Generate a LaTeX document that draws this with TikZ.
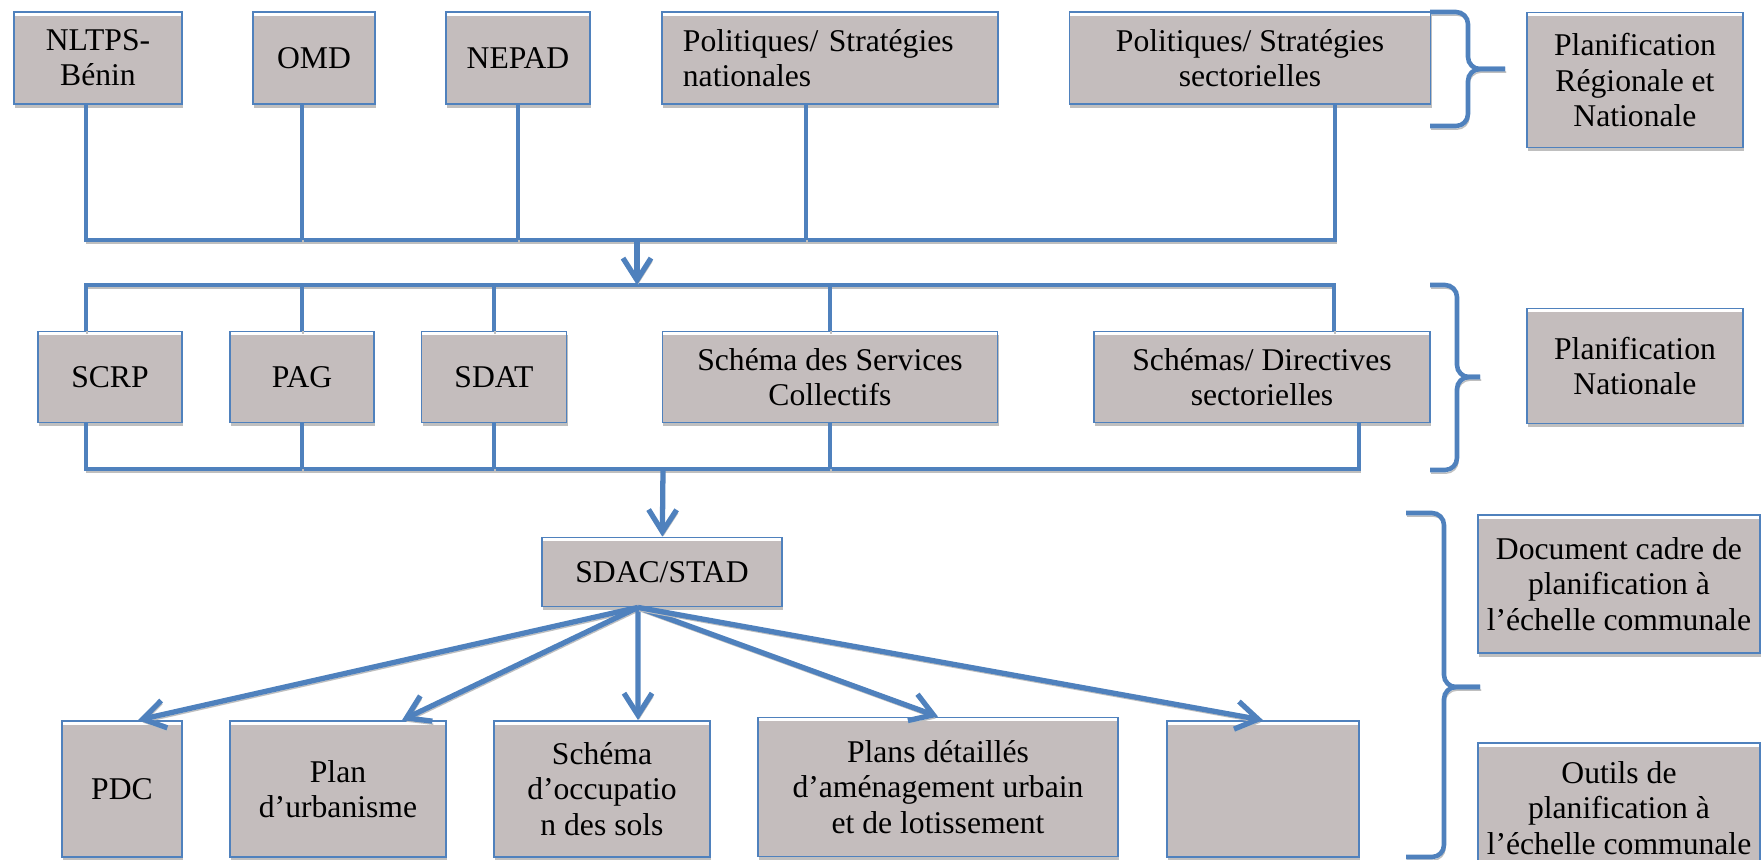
\documentclass[tikz,border=0pt]{standalone}
\usepackage{fontspec}
\setmainfont{Liberation Serif}
\usetikzlibrary{arrows.meta, shadows}
\definecolor{bleu}{RGB}{79,129,189}
\definecolor{gris}{RGB}{196,189,189}

\begin{document}
\begin{tikzpicture}[x=0.01cm, y=-0.01cm, font=\fontsize{9}{10}\selectfont,
            boite/.style={draw=bleu, line width=0.5pt, fill=gris, align=center, inner sep=0pt,
                drop shadow={shadow xshift=0.3pt, shadow yshift=-1.1pt, fill=black!25, opacity=1},
                path picture={\fill[white] (path picture bounding box.north west) rectangle ([yshift=-1.1pt]path picture bounding box.north east);}},
            lien/.style={draw=bleu, line width=1.3pt, preaction={draw=black!25, transform canvas={xshift=0.3pt, yshift=-0.9pt}}},
            fleche/.style={lien, line width=1.5pt, -{Straight Barb[length=2.2mm, width=2.8mm]}},
            accolade/.style={lien, rounded corners=0.12cm}]
            \useasboundingbox (0,0) rectangle (1762,859);
            \clip (0,0) rectangle (1762,859);
            \node[boite, minimum width=1.68cm, minimum height=0.92cm] (nltps) at (98,58) {NLTPS-\\Bénin};
            \node[boite, minimum width=1.22cm, minimum height=0.92cm] (omd) at (314,58) {OMD};
            \node[boite, minimum width=1.44cm, minimum height=0.92cm] (nepad) at (518,58) {NEPAD};
            \node[boite, minimum width=3.36cm, minimum height=0.92cm, text width=2.94cm, align=left] (polnat) at (830,58) {Politiques/ Stratégies\\nationales};
            \node[boite, minimum width=3.61cm, minimum height=0.92cm] (polsect) at (1250,58) {Politiques/ Stratégies\\sectorielles};
            \node[boite, minimum width=2.16cm, minimum height=1.35cm] (planreg) at (1635,80) {Planification\\Régionale et\\Nationale};
            \node[boite, minimum width=1.44cm, minimum height=0.91cm] (scrp) at (110,377) {SCRP};
            \node[boite, minimum width=1.44cm, minimum height=0.91cm] (pag) at (302,377) {PAG};
            \node[boite, minimum width=1.45cm, minimum height=0.91cm] (sdat) at (494,377) {SDAT};
            \node[boite, minimum width=3.35cm, minimum height=0.91cm] (schsc) at (830,377) {Schéma des Services\\Collectifs};
            \node[boite, minimum width=3.36cm, minimum height=0.91cm] (schdir) at (1262,377) {Schémas/ Directives\\sectorielles};
            \node[boite, minimum width=2.16cm, minimum height=1.15cm] (plannat) at (1635,366) {Planification\\Nationale};
            \node[boite, minimum width=2.4cm, minimum height=0.69cm] (sdac) at (662,572) {SDAC/STAD};
            \node[boite, minimum width=1.2cm, minimum height=1.36cm] (pdc) at (122,789) {PDC};
            \node[boite, minimum width=2.16cm, minimum height=1.36cm] (planurb) at (338,789) {Plan\\d’urbanisme};
            \node[boite, minimum width=2.16cm, minimum height=1.36cm] (sos) at (602,789) {Schéma\\d’occupatio\\n des sols};
            \node[boite, minimum width=3.6cm, minimum height=1.39cm] (pdau) at (938,787) {Plans détaillés\\d’aménagement urbain\\et de lotissement};
            \node[boite, minimum width=1.92cm, minimum height=1.36cm] (vide) at (1263,789) {};
            \node[boite, minimum width=2.82cm, minimum height=1.38cm] (doccadre) at (1619,584) {Document cadre de\\planification à\\l’échelle communale};
            \node[boite, minimum width=2.82cm, minimum height=1.3cm] (outils) at (1619,808) {Outils de\\planification à\\l’échelle communale};
            \coordinate (bus1) at (637,240);
            \coordinate (bus2) at (637,285);
            \coordinate (bus3) at (663,469);
            \coordinate (fan) at ([xshift=-0.24cm]sdac.south);
            \draw[lien] ([xshift=-0.12cm]nltps.south) |- (bus1) -| ([xshift=0.85cm]polsect.south);
            \draw[lien] ([xshift=-0.12cm]omd.south) -- ([xshift=-0.12cm]omd.south |- bus1);
            \draw[lien] (nepad.south) -- (nepad.south |- bus1);
            \draw[lien] ([xshift=-0.24cm]polnat.south) -- ([xshift=-0.24cm]polnat.south |- bus1);
            \draw[lien] ([xshift=-0.24cm]scrp.north) |- (bus2) -| ([xshift=0.72cm]schdir.north);
            \draw[lien] (pag.north) -- (pag.north |- bus2);
            \draw[lien] (sdat.north) -- (sdat.north |- bus2);
            \draw[lien] (schsc.north) -- (schsc.north |- bus2);
            \draw[lien] ([xshift=-0.24cm]scrp.south) |- (bus3) -| ([xshift=0.97cm]schdir.south);
            \draw[lien] (pag.south) -- (pag.south |- bus3);
            \draw[lien] (sdat.south) -- (sdat.south |- bus3);
            \draw[lien] (schsc.south) -- (schsc.south |- bus3);
            \draw[fleche] (bus1) -- (bus2);
            \draw[fleche] (bus3) -- (sdac);
            \draw[fleche] (fan) -- ([xshift=0.16cm]pdc.north);
            \draw[fleche] (fan) -- ([xshift=0.64cm]planurb.north);
            \draw[fleche] (fan) -- ([xshift=0.36cm]sos.north);
            \draw[fleche] (fan) -- (pdau.north);
            \draw[fleche] (fan) -- (vide.north);
            \draw[accolade] (1430,12) -| (1468,69) -- (1505,69);
            \draw[accolade] (1505,69) -| (1468,126) -- (1430,126);
            \draw[accolade] (1430,285) -| (1457,377) -- (1480,377);
            \draw[accolade] (1480,377) -| (1457,470) -- (1430,470);
            \draw[accolade] (1406,513) -| (1444,687) -- (1480,687);
            \draw[accolade] (1480,687) -| (1444,857) -- (1406,857);
        \end{tikzpicture}
\end{document}
